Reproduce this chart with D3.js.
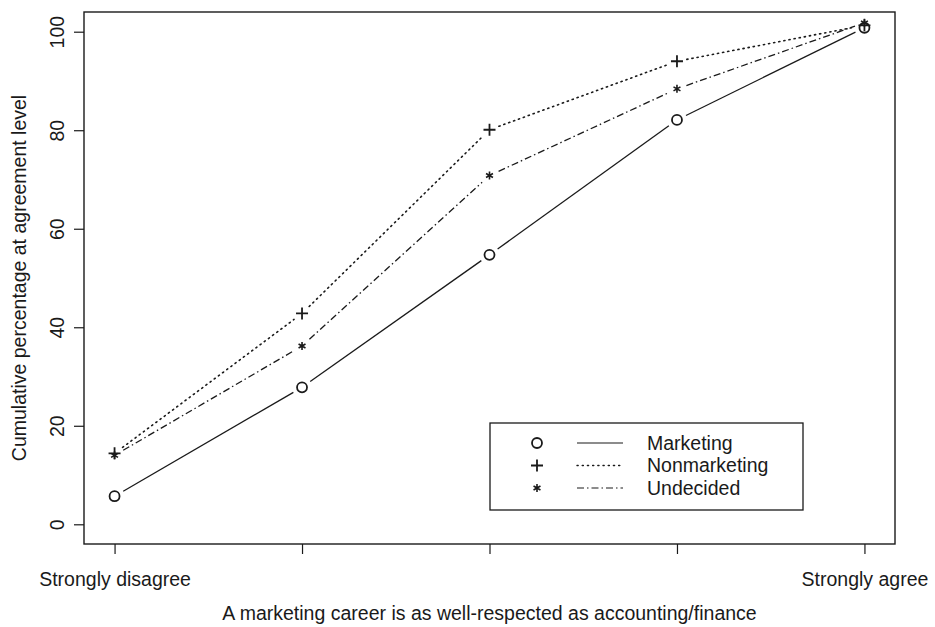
<!DOCTYPE html>
<html>
<head>
<meta charset="utf-8">
<script src="https://cdn.jsdelivr.net/npm/d3@7/dist/d3.min.js"></script>
<style>
  html, body { margin: 0; padding: 0; background: #fff; }
  svg { display: block; font-family: "Liberation Sans", Arial, Helvetica, sans-serif; }
</style>
</head>
<body>
<svg id="chart" width="935" height="627"></svg>
<script>
// ---- data ----
const levels = [1, 2, 3, 4, 5];
const levelLabels = ["Strongly disagree", "", "", "", "Strongly agree"];
const yTicks = [0, 20, 40, 60, 80, 100];
const marketing    = [5.7, 27.8, 54.7, 82.1, 100.8];
const nonmarketing = [14.4, 42.8, 80.1, 94.0, 101.3];
const undecided    = [14.0, 36.2, 70.8, 88.4, 101.8];
const seriesNames  = ["Marketing", "Nonmarketing", "Undecided"];
const xTitle = "A marketing career is as well-respected as accounting/finance";
const yTitle = "Cumulative percentage at agreement level";

// ---- layout ----
const svg = d3.select("#chart");
const L = 84, R = 895, T = 12, B = 544;
const ink = "#1a1a1a";
const fs = "19.5px";

const x = d3.scalePoint().domain(levels).range([L, R]).padding(0.163);
const y = d3.scaleLinear().domain([-4, 104]).range([B, T]);

// frame
svg.append("rect").attr("x", L).attr("y", T).attr("width", R - L).attr("height", B - T)
  .attr("fill", "none").attr("stroke", ink).attr("stroke-width", 1.4);

// y axis
const yAxis = svg.append("g").attr("transform", `translate(${L},0)`)
  .call(d3.axisLeft(y).tickValues(yTicks).tickSize(10).tickPadding(0).tickFormat(d3.format("d")));
yAxis.select(".domain").remove();
yAxis.selectAll("line").attr("stroke", ink).attr("stroke-width", 1.2);
yAxis.selectAll("text").remove();
yAxis.selectAll(".tick").append("text")
  .attr("transform", "translate(-20,0) rotate(-90)")
  .attr("text-anchor", "middle")
  .attr("dy", 0)
  .attr("fill", ink)
  .style("font-size", fs)
  .text(d => d3.format("d")(d));

// x axis
const xAxis = svg.append("g").attr("transform", `translate(0,${B})`)
  .call(d3.axisBottom(x).tickSize(10).tickPadding(18).tickFormat((d, i) => levelLabels[i]));
xAxis.select(".domain").remove();
xAxis.selectAll("line").attr("stroke", ink).attr("stroke-width", 1.2);
xAxis.selectAll("text").attr("fill", ink).style("font-size", fs).attr("dy", "0.71em");

// axis titles
svg.append("text").attr("x", (L + R) / 2).attr("y", 620)
  .attr("text-anchor", "middle").attr("fill", ink).style("font-size", fs).text(xTitle);
svg.append("text").attr("transform", `translate(26,${(T + B) / 2}) rotate(-90)`)
  .attr("text-anchor", "middle").attr("fill", ink).style("font-size", fs).text(yTitle);

// series config
const dashes = [null, "1.2,4", "7,3,1.5,3"];
const allSeries = [marketing, nonmarketing, undecided];

function markerPath(kind, cx, cy) {
  const p = d3.path();
  if (kind === 0) {
    p.moveTo(cx + 5, cy); p.arc(cx, cy, 5, 0, 2 * Math.PI);
  } else if (kind === 1) {
    p.moveTo(cx - 6, cy); p.lineTo(cx + 6, cy);
    p.moveTo(cx, cy - 6); p.lineTo(cx, cy + 6);
  } else {
    const r = 4;
    for (let k = 0; k < 3; k++) {
      const a = Math.PI / 2 + k * Math.PI / 3;
      p.moveTo(cx + r * Math.cos(a), cy - r * Math.sin(a));
      p.lineTo(cx - r * Math.cos(a), cy + r * Math.sin(a));
    }
  }
  return p.toString();
}

// lines with gaps around points (type = "b")
const gap = 10;
allSeries.forEach((vals, si) => {
  const g = svg.append("g");
  for (let i = 0; i < vals.length - 1; i++) {
    const x0 = x(levels[i]), y0 = y(vals[i]);
    const x1 = x(levels[i + 1]), y1 = y(vals[i + 1]);
    const len = Math.hypot(x1 - x0, y1 - y0);
    if (len <= 2 * gap) continue;
    const ux = (x1 - x0) / len, uy = (y1 - y0) / len;
    g.append("line")
      .attr("x1", x0 + ux * gap).attr("y1", y0 + uy * gap)
      .attr("x2", x1 - ux * gap).attr("y2", y1 - uy * gap)
      .attr("stroke", ink).attr("stroke-width", si === 1 ? 1.6 : 1.3)
      .attr("stroke-linecap", si === 1 ? "round" : "butt")
      .attr("stroke-dasharray", dashes[si]);
  }
  g.selectAll("path").data(vals).join("path")
    .attr("d", (d, i) => markerPath(si, x(levels[i]), y(d)))
    .attr("fill", "none").attr("stroke", ink).attr("stroke-width", si === 2 ? 1.6 : 1.8);
});

// legend
const lg = svg.append("g");
lg.append("rect").attr("x", 490).attr("y", 423).attr("width", 313).attr("height", 87)
  .attr("fill", "#fff").attr("stroke", ink).attr("stroke-width", 1.3);
seriesNames.forEach((name, i) => {
  const cy = 443 + i * 22.5;
  lg.append("path").attr("d", markerPath(i, 537, cy))
    .attr("fill", "none").attr("stroke", ink).attr("stroke-width", i === 2 ? 1.6 : 1.8);
  lg.append("line").attr("x1", 577).attr("x2", 623).attr("y1", cy).attr("y2", cy)
    .attr("stroke", ink).attr("stroke-width", i === 1 ? 1.4 : 1.2)
    .attr("stroke-linecap", i === 1 ? "round" : "butt")
    .attr("stroke-dasharray", dashes[i]);
  lg.append("text").attr("x", 647).attr("y", cy).attr("dy", "0.35em")
    .attr("fill", ink).style("font-size", fs).text(name);
});
</script>
</body>
</html>
